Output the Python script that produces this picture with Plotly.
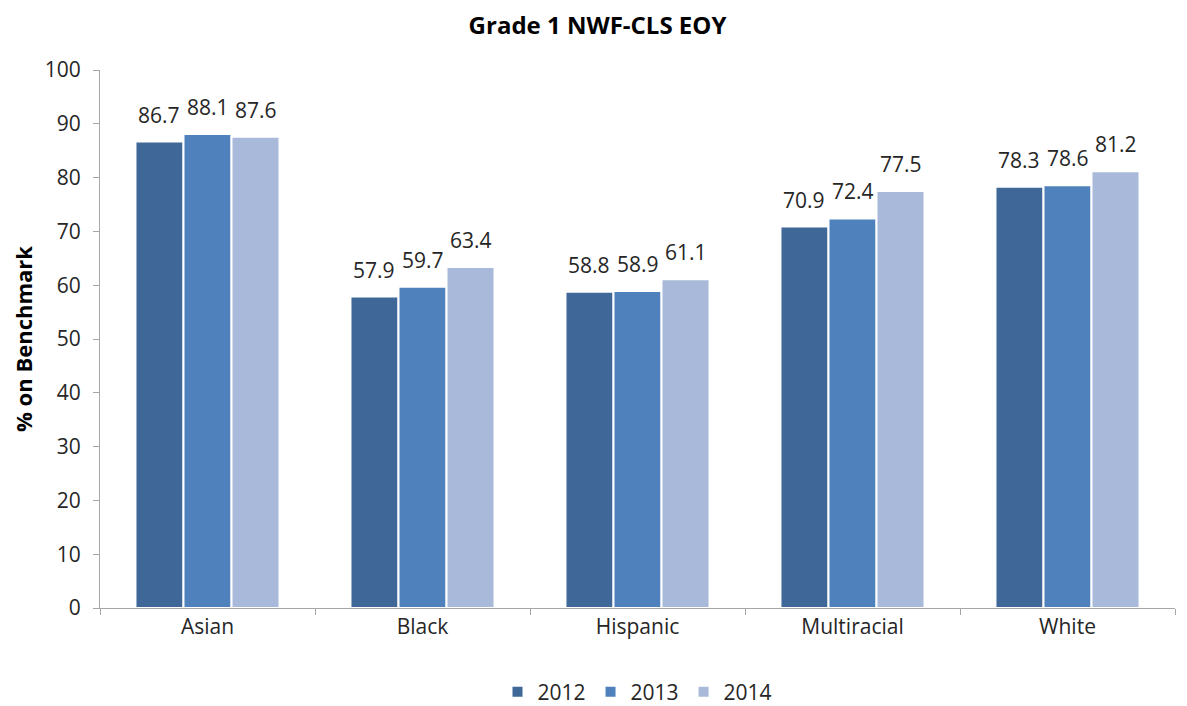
import plotly.graph_objects as go

categories = ["Asian", "Black", "Hispanic", "Multiracial", "White"]
years = ["2012", "2013", "2014"]
values_2012 = [86.7, 57.9, 58.8, 70.9, 78.3]
values_2013 = [88.1, 59.7, 58.9, 72.4, 78.6]
values_2014 = [87.6, 63.4, 61.1, 77.5, 81.2]
colors = ["#3F6797", "#4F81BD", "#A8B9D9"]

FONT = "Open Sans"
W, H = 1179, 698          # page body has an 8px margin, so the figure is sized to compensate
ML, MR, MT, MB = 92, 12, 62, 98
BARGAP = 0.33

series = [values_2012, values_2013, values_2014]

fig = go.Figure()
for name, vals, col in zip(years, series, colors):
    fig.add_trace(go.Bar(
        x=categories, y=vals, name=name,
        marker=dict(color=col, line=dict(color="#FFFFFF", width=2)),
        cliponaxis=False,
    ))

# data labels as annotations, horizontally shifted to their bar in the group
plot_w = W - ML - MR
bar_px = plot_w / len(categories) * (1 - BARGAP) / len(series)
annotations = []
for i, vals in enumerate(series):
    shift = (i - (len(series) - 1) / 2) * bar_px
    for cat, v in zip(categories, vals):
        annotations.append(dict(
            x=cat, y=v, xref="x", yref="y", text=f"{v:.1f}", showarrow=False,
            xanchor="center", yanchor="bottom", xshift=shift, yshift=11,
            font=dict(size=21, color="#262626", family=FONT),
        ))

fig.update_layout(
    width=W, height=H,
    paper_bgcolor="white", plot_bgcolor="white",
    font=dict(family=FONT, color="#262626"),
    title=dict(text="<b>Grade 1 NWF-CLS EOY</b>", x=0.5, xanchor="center",
               yref="container", y=0.975, yanchor="middle",
               font=dict(size=24, color="#000000", family=FONT)),
    margin=dict(l=ML, r=MR, t=MT, b=MB),
    barmode="group", bargap=BARGAP, bargroupgap=0.0,
    showlegend=True,
    legend=dict(orientation="h", x=0.5, xanchor="center",
                yref="container", y=0.02, yanchor="middle",
                font=dict(size=21, color="#262626"), traceorder="normal"),
    xaxis=dict(showline=True, linecolor="#A6A6A6", linewidth=1, automargin=False,
               ticks="outside", tickson="boundaries", ticklen=6, tickcolor="#A6A6A6",
               tickfont=dict(size=21, color="#262626")),
    yaxis=dict(range=[0, 100], dtick=10, showgrid=False, zeroline=False, automargin=False,
               showline=True, linecolor="#A6A6A6", linewidth=1,
               ticks="outside", ticklen=6, tickcolor="#A6A6A6", ticklabelstandoff=8,
               tickfont=dict(size=21, color="#262626"),
               title=dict(text="<b>% on Benchmark</b>", font=dict(size=22, color="#000000"), standoff=18)),
    annotations=annotations,
)

fig.write_html("out.html")
